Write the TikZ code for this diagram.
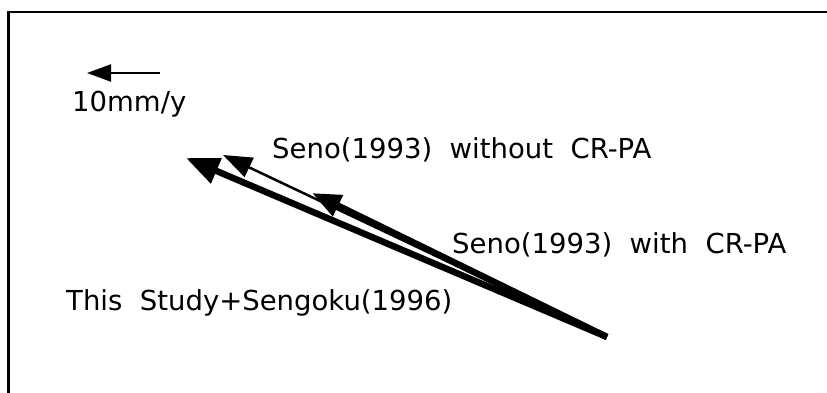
\documentclass[tikz,border=0pt]{standalone}
\usepackage{fontspec}
\setmainfont{DejaVu Sans}
\usetikzlibrary{arrows.meta}

\begin{document}
\begin{tikzpicture}[x=1pt,y=-1pt,
  lbl/.style={anchor=base west,inner sep=0pt,font=\fontsize{27.5}{32}\selectfont}]
\useasboundingbox (0,0) rectangle (827,393);
% frame
\draw[line width=2.5pt] (8.5,393) -- (8.5,12) -- (827,12);
% scale vector
\coordinate (s1) at (160,73);
\coordinate (s2) at (87,73);
\draw[line width=2.2pt,-{Triangle[length=24pt,width=17pt]}] (s1) -- (s2);
\node[lbl] (scale) at (72,112) {10mm/y};
% vectors
\coordinate (base) at (607,337);
\coordinate (without) at (223,155);
\coordinate (with) at (312,193);
\coordinate (study) at (186,158);
\draw[line width=2.5pt,-{Triangle[length=29pt,width=21pt]}] (base) -- (without);
\draw[line width=6.5pt,-{Triangle[length=29pt,width=22pt]}] (base) -- (with);
\draw[line width=6.5pt,-{Triangle[length=33pt,width=26pt]}] (base) -- (study);
\node[lbl] (lwithout) at (272,158) {Seno(1993)~~without~~CR-PA};
\node[lbl] (lwith) at (452,253) {Seno(1993)~~with~~CR-PA};
\node[lbl] (lstudy) at (66,310) {This~~Study+Sengoku(1996)};
\end{tikzpicture}
\end{document}
